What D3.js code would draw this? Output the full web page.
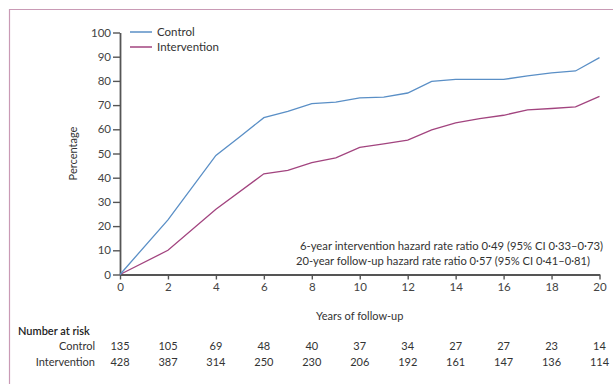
<!DOCTYPE html>
<html>
<head>
<meta charset="utf-8">
<script src="https://cdn.jsdelivr.net/npm/d3@7"></script>
<style>
  body { margin: 0; background: #fff; }
  text { font-family: Lato, "Noto Sans", sans-serif; fill: #333; }
</style>
</head>
<body>
<div id="chart"></div>
<script>
// cumulative percentage by year of follow-up
var controlYears = [0, 2, 4, 5, 6, 7, 8, 9, 10, 11, 12, 13, 14, 16, 17, 18, 19, 20];
var controlPct   = [0, 22.6, 49.2, 56.9, 64.8, 67.4, 70.6, 71.2, 73.0, 73.3, 75.0, 79.8, 80.6, 80.6, 82.1, 83.3, 84.1, 89.6];
var interYears = [0, 2, 4, 6, 7, 8, 9, 10, 11, 12, 13, 14, 15, 16, 17, 18, 19, 20];
var interPct   = [0, 10.0, 27.0, 41.6, 43.0, 46.2, 48.2, 52.5, 54.0, 55.5, 59.8, 62.7, 64.4, 65.8, 68.0, 68.6, 69.3, 73.6];

// number at risk table
var riskYears = [0, 2, 4, 6, 8, 10, 12, 14, 16, 18, 20];
var riskControl = [135, 105, 69, 48, 40, 37, 34, 27, 27, 23, 14];
var riskInter   = [428, 387, 314, 250, 230, 206, 192, 161, 147, 136, 114];

var xTicks = [0, 2, 4, 6, 8, 10, 12, 14, 16, 18, 20];
var yTicks = [0, 10, 20, 30, 40, 50, 60, 70, 80, 90, 100];

var blue = "#5a8fc6", magenta = "#a2447f", axisCol = "#555";

var W = 613, H = 384;
var svg = d3.select("#chart").append("svg").attr("width", W).attr("height", H);

// frame
svg.append("line").attr("x1", 9.5).attr("x2", 9.5).attr("y1", 9).attr("y2", H)
  .style("stroke", "#c99ab5").style("stroke-width", 1.2);
svg.append("line").attr("x1", 9).attr("x2", W).attr("y1", 9.5).attr("y2", 9.5)
  .style("stroke", "#c99ab5").style("stroke-width", 1.2);

var x = d3.scaleLinear().domain([0, 20]).range([120, 599.5]);
var y = d3.scaleLinear().domain([0, 100]).range([274.5, 32.5]);

// axes
var xAxis = svg.append("g").attr("transform", "translate(0," + y(0) + ")")
  .call(d3.axisBottom(x).tickValues(xTicks).tickSize(5).tickSizeOuter(0).tickPadding(3));
var yAxis = svg.append("g").attr("transform", "translate(" + x(0) + ",0)")
  .call(d3.axisLeft(y).tickValues(yTicks).tickSize(7).tickSizeOuter(0).tickPadding(2));
[xAxis, yAxis].forEach(function (a) {
  a.select(".domain").style("stroke", axisCol).style("stroke-width", 1.8);
  a.selectAll(".tick line").style("stroke", axisCol).style("stroke-width", 1.4);
  a.selectAll(".tick text").style("font-family", "Lato, sans-serif").style("font-size", "11.5px").style("fill", "#444");
});

svg.append("text")
  .attr("transform", "translate(77," + y(50) + ") rotate(-90)")
  .attr("text-anchor", "middle")
  .style("font-size", "11px")
  .text("Percentage");

svg.append("text")
  .attr("x", (x(0) + x(20)) / 2).attr("y", 320)
  .attr("text-anchor", "middle")
  .style("font-size", "11px")
  .text("Years of follow-up");

// lines
var line = d3.line().x(function (d) { return x(d[0]); }).y(function (d) { return y(d[1]); });
svg.append("path").datum(d3.zip(interYears, interPct)).attr("d", line)
  .style("fill", "none").style("stroke", magenta).style("stroke-width", 1.3);
svg.append("path").datum(d3.zip(controlYears, controlPct)).attr("d", line)
  .style("fill", "none").style("stroke", blue).style("stroke-width", 1.3);

// legend
var legend = [["Control", blue], ["Intervention", magenta]];
legend.forEach(function (d, i) {
  var ly = 32 + i * 15;
  svg.append("line").attr("x1", 130).attr("x2", 152).attr("y1", ly).attr("y2", ly)
    .style("stroke", d[1]).style("stroke-width", 1.5);
  svg.append("text").attr("x", 157).attr("y", ly + 4)
    .style("font-size", "11.5px").text(d[0]);
});

// hazard annotation
svg.append("text").attr("x", 300).attr("y", 249.5)
  .attr("textLength", 303).attr("lengthAdjust", "spacingAndGlyphs")
  .style("font-size", "11.2px")
  .text("6-year intervention hazard rate ratio 0\u00b749 (95% CI 0\u00b733\u20130\u00b773)");
svg.append("text").attr("x", 296).attr("y", 264.5)
  .attr("textLength", 294).attr("lengthAdjust", "spacingAndGlyphs")
  .style("font-size", "11.2px")
  .text("20-year follow-up hazard rate ratio 0\u00b757 (95% CI 0\u00b741\u20130\u00b781)");

// number at risk
svg.append("text").attr("x", 18).attr("y", 335)
  .style("font-size", "11px").style("font-weight", "600").style("fill", "#222")
  .text("Number at risk");
svg.append("text").attr("x", 95).attr("y", 350).attr("text-anchor", "end")
  .style("font-size", "11px").text("Control");
svg.append("text").attr("x", 95).attr("y", 366).attr("text-anchor", "end")
  .style("font-size", "11px").text("Intervention");

svg.selectAll(".riskC").data(d3.zip(riskYears, riskControl)).enter()
  .append("text").attr("class", "riskC")
  .attr("x", function (d) { return x(d[0]); }).attr("y", 350)
  .attr("text-anchor", "middle").style("font-size", "11px")
  .text(function (d) { return d[1]; });
svg.selectAll(".riskI").data(d3.zip(riskYears, riskInter)).enter()
  .append("text").attr("class", "riskI")
  .attr("x", function (d) { return x(d[0]); }).attr("y", 366)
  .attr("text-anchor", "middle").style("font-size", "11px")
  .text(function (d) { return d[1]; });
</script>
</body>
</html>
